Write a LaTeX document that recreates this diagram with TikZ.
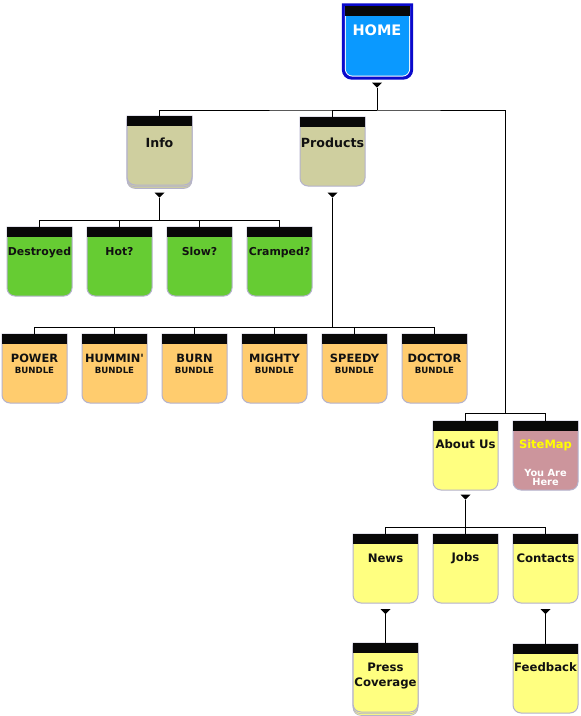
\documentclass[tikz,border=0pt]{standalone}
\usepackage{fontspec}
\setmainfont{DejaVu Sans}[Ligatures=TeXOff]
\definecolor{hdr}{HTML}{080808}
\definecolor{edge}{HTML}{B4B2CC}
\definecolor{tan}{HTML}{CFCF9F}
\definecolor{grn}{HTML}{66CC33}
\definecolor{org}{HTML}{FFCC6E}
\definecolor{ylw}{HTML}{FFFF80}
\definecolor{pnk}{HTML}{CC959C}
\definecolor{hblue}{HTML}{0A99FF}
\definecolor{hborder}{HTML}{0A0ACC}
\definecolor{txt}{HTML}{111111}
\tikzset{
  boxnode/.style={rectangle,minimum width=65pt,minimum height=69pt,inner sep=0pt,outer sep=0pt},
  lbl/.style={anchor=base,inner sep=0pt,text=txt,font=\bfseries\fontsize{#1}{#1}\selectfont},
  lbl/.default=11.7,
  conn/.style={draw=black,line width=0.9pt},
}
% name, left, top, fill
\newcommand\pgbox[4]{%
  \node[boxnode] (#1) at ({#2+32.5},{#3+34.5}) {};
  \filldraw[fill=#4,draw=edge,line width=1pt] (#1.north west) [rounded corners=8pt] -- (#1.south west) -- (#1.south east) [sharp corners] -- (#1.north east) -- cycle;
  \fill[hdr] (#1.north west) rectangle ([yshift=-9.5pt]#1.north east);
}
\newcommand\stackbox[4]{%
  \node[boxnode] (#1) at ({#2+32.5},{#3+34.5}) {};
  \foreach \s in {3.4,1.7}{%
    \filldraw[fill=#4,draw=edge,line width=0.7pt] ([yshift=-\s pt]#1.north west) [rounded corners=8pt] -- ([yshift=-\s pt]#1.south west) -- ([yshift=-\s pt]#1.south east) [sharp corners] -- ([yshift=-\s pt]#1.north east) -- cycle;}
  \filldraw[fill=#4,draw=edge,line width=1pt] (#1.north west) [rounded corners=8pt] -- (#1.south west) -- (#1.south east) [sharp corners] -- (#1.north east) -- cycle;
  \fill[hdr] (#1.north west) rectangle ([yshift=-9.5pt]#1.north east);
}
% triangle whose tip is coordinate #1
\newcommand\tri[1]{\fill[black] ([xshift=-5pt,yshift=5pt]#1) -- ([xshift=5pt,yshift=5pt]#1) -- (#1) -- cycle;}
\begin{document}
\begin{tikzpicture}[x=1pt,y=-1pt]
\useasboundingbox[fill=white] (0,0) rectangle (581,716);

% HOME
\node[rectangle,minimum width=71pt,minimum height=76pt,inner sep=0pt] (home) at (377.5,41.5) {};
\fill[hborder] (home.north west) [rounded corners=10pt] -- (home.south west) -- (home.south east) [sharp corners] -- (home.north east) -- cycle;
\fill[white] ([xshift=3pt,yshift=-3pt]home.north west) [rounded corners=8pt] -- ([xshift=3pt,yshift=3pt]home.south west) -- ([xshift=-3pt,yshift=3pt]home.south east) [sharp corners] -- ([xshift=-3pt,yshift=-3pt]home.north east) -- cycle;
\fill[hblue] ([xshift=4pt,yshift=-4pt]home.north west) [rounded corners=7pt] -- ([xshift=4pt,yshift=4pt]home.south west) -- ([xshift=-4pt,yshift=4pt]home.south east) [sharp corners] -- ([xshift=-4pt,yshift=-4pt]home.north east) -- cycle;
\fill[hdr] ([xshift=3pt,yshift=-3pt]home.north west) rectangle ([xshift=-3pt,yshift=-13pt]home.north east);
\node[anchor=base,inner sep=0pt,text=white,font=\bfseries\fontsize{14.5}{14.5}\selectfont] (homel) at (377,35.7) {HOME};

% boxes
\stackbox{info}{127}{116}{tan}
\pgbox{products}{300}{117}{tan}
\pgbox{destroyed}{7}{227}{grn}
\pgbox{hot}{87}{227}{grn}
\pgbox{slow}{167}{227}{grn}
\pgbox{cramped}{247}{227}{grn}
\pgbox{power}{2}{334}{org}
\pgbox{hummin}{82}{334}{org}
\pgbox{burn}{162}{334}{org}
\pgbox{mighty}{242}{334}{org}
\pgbox{speedy}{322}{334}{org}
\pgbox{doctor}{402}{334}{org}
\pgbox{about}{433}{421}{ylw}
\pgbox{sitemap}{513}{421}{pnk}
\pgbox{news}{353}{534}{ylw}
\pgbox{jobs}{433}{534}{ylw}
\pgbox{contacts}{513}{534}{ylw}
\stackbox{press}{353}{643}{ylw}
\pgbox{feedback}{513}{644}{ylw}

% labels
\node[lbl=12.6] (infol) at (info.north |- 0,147) {Info};
\node[lbl=12.6] (productsl) at (products.north |- 0,147) {Products};
\node[lbl=10.9] (destroyedl) at (destroyed.north |- 0,255) {Destroyed};
\node[lbl=10.9] (hotl) at (hot.north |- 0,255) {Hot?};
\node[lbl=10.9] (slowl) at (slow.north |- 0,255) {Slow?};
\node[lbl=10.9] (crampedl) at (cramped.north |- 0,255) {Cramped?};
\foreach \n/\t in {power/POWER,hummin/HUMMIN',burn/BURN,mighty/MIGHTY,speedy/SPEEDY,doctor/DOCTOR}{
  \node[lbl=11.4] (\n l) at (\n.north |- 0,362) {\t};
  \node[lbl=8.6] (\n b) at (\n.north |- 0,373.5) {BUNDLE};
}
\node[lbl] (aboutl) at (about.north |- 0,448) {About Us};
\node[lbl=11.5,text={rgb,255:red,255;green,255;blue,0}] (sitemapl) at (sitemap.north |- 0,448) {SiteMap};
\node[lbl=9.8,text=white] (youare) at (sitemap.north |- 0,476) {You Are};
\node[lbl=9.8,text=white] (here) at (sitemap.north |- 0,485.5) {Here};
\node[lbl] (newsl) at (news.north |- 0,562.5) {News};
\node[lbl] (jobsl) at (jobs.north |- 0,561) {Jobs};
\node[lbl] (contactsl) at (contacts.north |- 0,562.5) {Contacts};
\node[lbl] (pressl) at (press.north |- 0,671.5) {Press};
\node[lbl] (coveragel) at (press.north |- 0,686.5) {Coverage};
\node[lbl] (feedbackl) at (feedback.north |- 0,671.5) {Feedback};

% connectors
\coordinate (homet) at (377,87.5);
\coordinate (hb) at (377,110);
\draw[conn] (homet) -- (hb);
\coordinate (ab) at (505,413);
\draw[conn] (info.north) |- (hb) -| (ab);
\draw[conn] (products.north) |- (hb);
\draw[conn] (about.north) |- (ab);
\draw[conn] (sitemap.north) |- (ab);

\coordinate (infot) at (159.5,197.5);
\coordinate (ib) at (159.5,220);
\draw[conn] (infot) -- (ib);
\foreach \n in {destroyed,hot,slow,cramped}{\draw[conn] (\n.north) |- (ib);}

\coordinate (prodt) at (332.5,197.5);
\coordinate (pb) at (332.5,327);
\draw[conn] (prodt) -- (pb);
\foreach \n in {power,hummin,burn,mighty,speedy,doctor}{\draw[conn] (\n.north) |- (pb);}

\coordinate (aboutt) at (465.5,499.5);
\coordinate (bb) at (465.5,527);
\draw[conn] (aboutt) -- (bb);
\foreach \n in {news,jobs,contacts}{\draw[conn] (\n.north) |- (bb);}

\coordinate (newst) at (385.5,614);
\draw[conn] (newst) -- (press.north);
\coordinate (contt) at (545.5,614);
\draw[conn] (contt) -- (feedback.north);

\tri{homet}\tri{infot}\tri{prodt}\tri{aboutt}\tri{newst}\tri{contt}
\end{tikzpicture}
\end{document}
